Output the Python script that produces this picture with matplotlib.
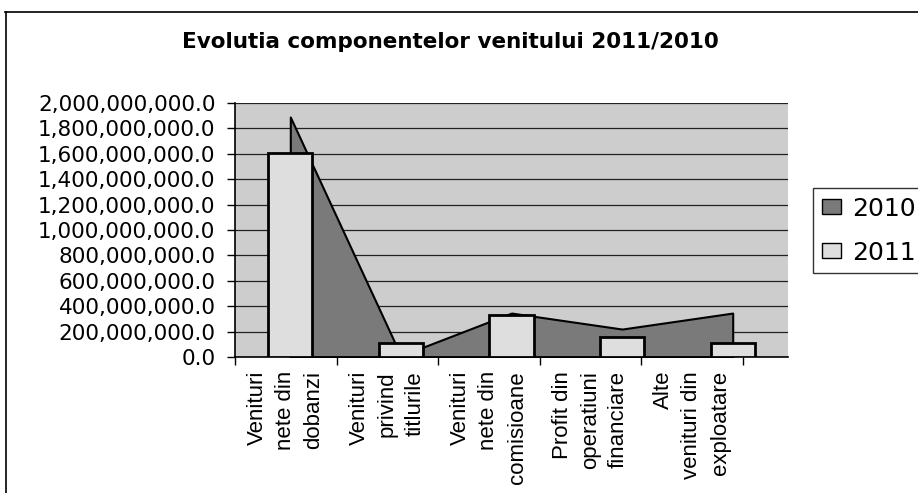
import numpy as np
import matplotlib
matplotlib.use('Agg')
from matplotlib import pyplot as plt
from matplotlib.patches import Patch
from matplotlib.lines import Line2D

# data
categorii = ['Venituri\nnete din\ndobanzi', 'Venituri\nprivind\ntitlurile',
             'Venituri\nnete din\ncomisioane', 'Profit din\noperatiuni\nfinanciare',
             'Alte\nvenituri din\nexploatare']
val_2010 = [1890000000, 10000000, 346000000, 220000000, 346000000]
val_2011 = [1606000000, 110000000, 331000000, 157000000, 110000000]
serii = ['2010', '2011']
y_ticks = [0, 200000000, 400000000, 600000000, 800000000, 1000000000,
           1200000000, 1400000000, 1600000000, 1800000000, 2000000000]

W, H = 918, 493
fig = plt.figure(figsize=(W / 100, H / 100), dpi=100)
fig.patch.set_facecolor('white')

# plot area in pixel terms -> figure fractions
left, right, top, bottom = 235, 788, 103, 357
ax = fig.add_axes([left / W, 1 - bottom / H, (right - left) / W, (bottom - top) / H])
ax.set_facecolor('#cdcdcd')

x = np.arange(len(categorii))
ax.fill_between(x, 0, val_2010, facecolor='#7a7a7a', edgecolor='black', linewidth=1.5, zorder=2)
ax.bar(x, val_2011, width=0.4, color='#dedede', edgecolor='black', linewidth=2, zorder=3)

ax.set_xlim(-0.5, len(categorii) - 0.5)
ax.set_ylim(0, 2000000000)

# 3D-ish floor: the category axis at the front is a bit shorter than the back wall
front = 0.918
bounds = -0.5 + front * np.arange(len(categorii) + 1)
mids = (bounds[:-1] + bounds[1:]) / 2
ax.set_xticks(bounds, labels=[''] * len(bounds))
ax.set_xticks(mids, labels=categorii, minor=True, rotation=90,
              fontfamily='Liberation Sans', fontsize=16,
              multialignment='right', linespacing=1.45)
ax.tick_params(axis='x', which='major', length=6, width=1, direction='out')
ax.tick_params(axis='x', which='minor', length=0, pad=10)

ax.set_yticks(y_ticks, labels=['{:,.1f}'.format(v) for v in y_ticks])
ax.tick_params(axis='y', length=6, width=1, direction='out', pad=8, labelsize=15.5)

ax.grid(axis='y', color='#222222', linewidth=0.9, zorder=1)
ax.set_axisbelow(True)
for s in ['top', 'right']:
    ax.spines[s].set_visible(False)
ax.spines['left'].set_linewidth(1.2)
ax.spines['bottom'].set_linewidth(1.2)

fig.text(450 / W, 1 - 42 / H, 'Evolutia componentelor venitului 2011/2010',
         ha='center', va='center', fontsize=15.5, fontweight='bold')

handles = [Patch(facecolor='#7a7a7a', edgecolor='black', linewidth=1),
           Patch(facecolor='#dedede', edgecolor='black', linewidth=1)]
leg = fig.legend(handles, serii, loc='upper left', bbox_to_anchor=(813 / W, 1 - 188 / H),
                 fontsize=18, frameon=True, fancybox=False, borderaxespad=0,
                 handlelength=0.75, handleheight=0.55, handletextpad=0.45,
                 labelspacing=0.8, borderpad=0.35)
leg.get_frame().set_edgecolor('black')
leg.get_frame().set_linewidth(1)

# outer chart frame (left and top edges visible in the scan)
fig.add_artist(Line2D([5 / W, 1], [1 - 12 / H, 1 - 12 / H], transform=fig.transFigure,
                      color='black', linewidth=1.2))
fig.add_artist(Line2D([6 / W, 6 / W], [0, 1 - 12 / H], transform=fig.transFigure,
                      color='black', linewidth=1.2))

fig.savefig('out.png', dpi=100)
